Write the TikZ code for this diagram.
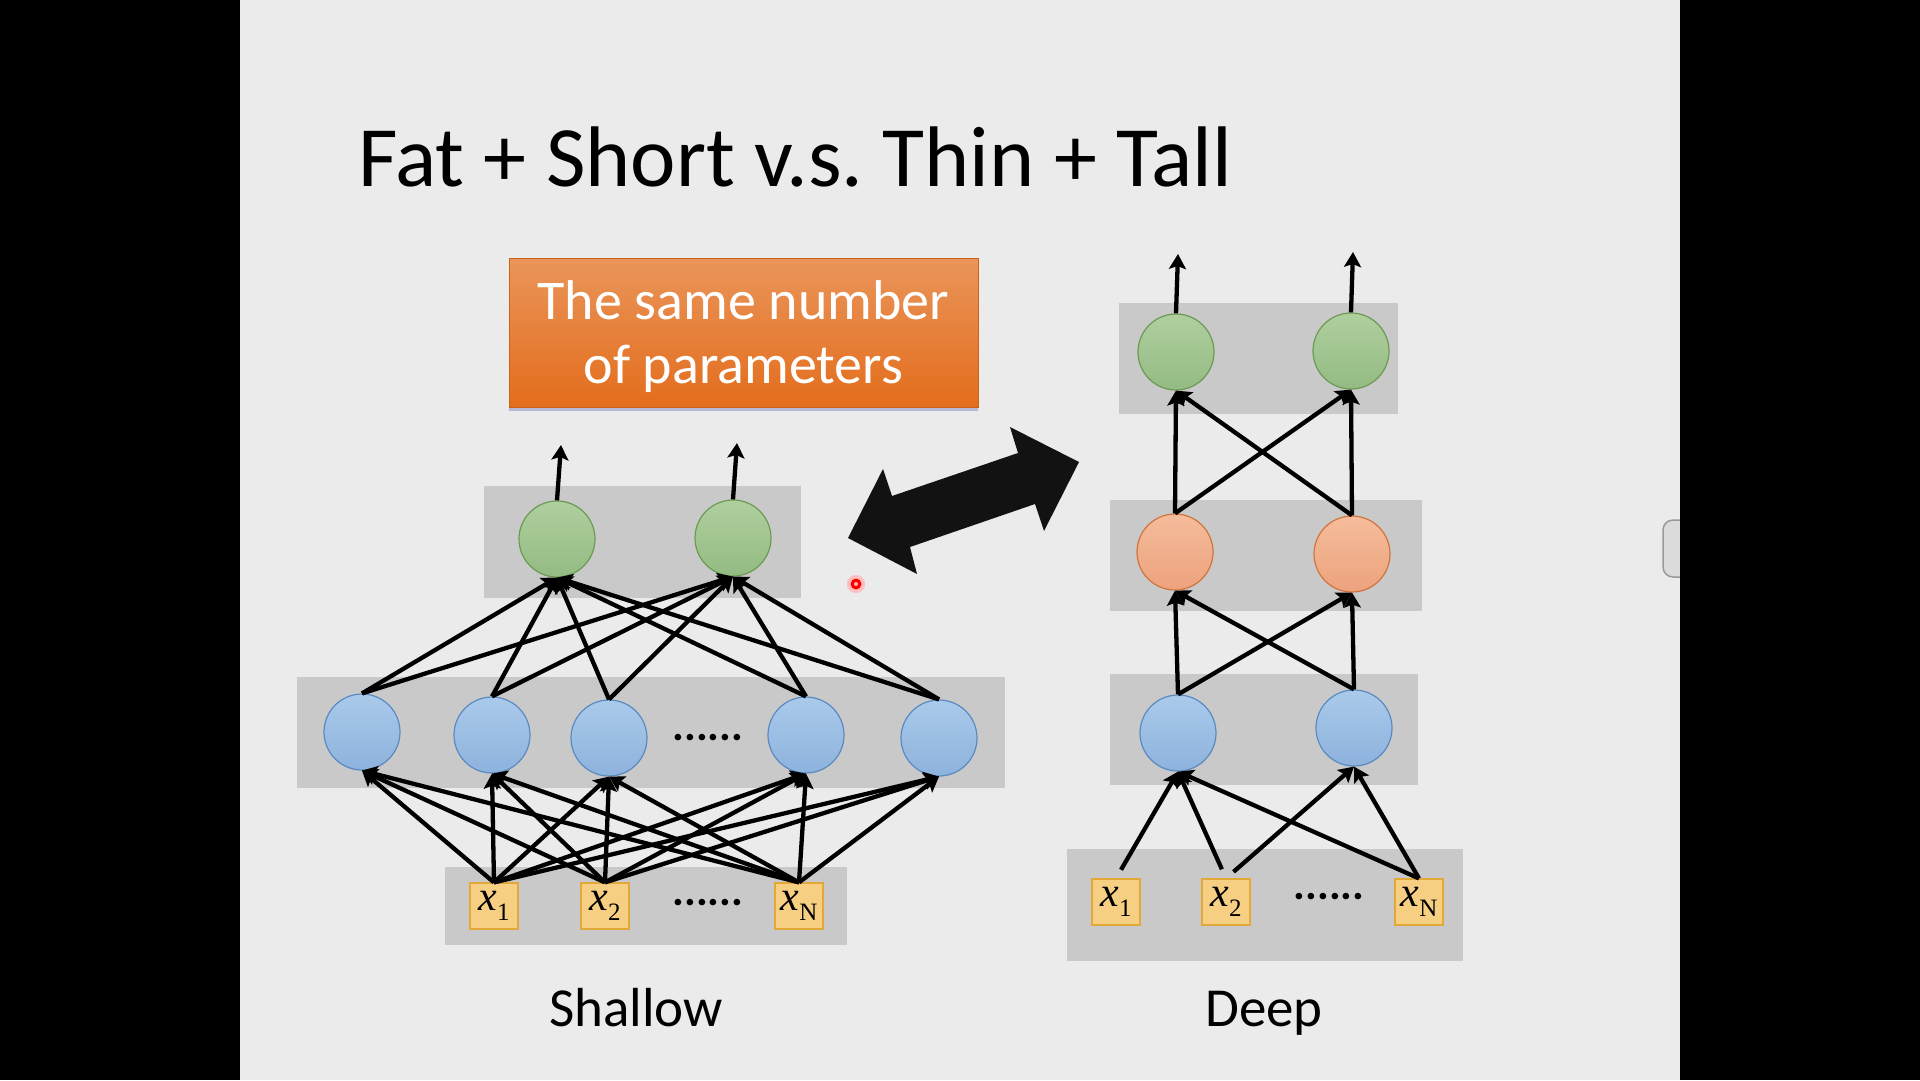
\documentclass[tikz,border=0pt]{standalone}
\usepackage{fontspec}
\setmainfont{Carlito}
\newfontfamily\inputfont{Liberation Serif}
\usetikzlibrary{arrows.meta,shadows}
\pgfdeclarelayer{bg}
\pgfsetlayers{bg,main}
\frenchspacing
\definecolor{slide}{HTML}{EBEBEB}
\definecolor{layergray}{HTML}{C9C9C9}
\definecolor{bluetop}{HTML}{AACAEB}
\definecolor{bluebot}{HTML}{8DB2DC}
\definecolor{blueline}{HTML}{5A8AC0}
\definecolor{greentop}{HTML}{AFCF9F}
\definecolor{greenbot}{HTML}{94BB83}
\definecolor{greenline}{HTML}{6C9A52}
\definecolor{peachtop}{HTML}{F5BC9B}
\definecolor{peachbot}{HTML}{EDA27D}
\definecolor{peachline}{HTML}{D0743C}
\definecolor{infill}{HTML}{F7CF82}
\definecolor{inline}{HTML}{E2A83A}
\definecolor{paramtop}{HTML}{EA955A}
\definecolor{parambot}{HTML}{E36D1C}
\newcommand{\xsub}[2]{\textit{#1}\raisebox{-10pt}{\fontsize{25}{25}\selectfont #2}}
\tikzset{
  unit/.style={circle, draw, line width=1.2pt, minimum size=76pt, inner sep=0pt},
  hidunit/.style={unit, draw=blueline, top color=bluetop, bottom color=bluebot},
  outunit/.style={unit, draw=greenline, top color=greentop, bottom color=greenbot},
  midunit/.style={unit, draw=peachline, top color=peachtop, bottom color=peachbot},
  inbox/.style={rectangle, draw=inline, fill=infill, line width=1.2pt,
    minimum width=48pt, minimum height=46pt, inner sep=0pt,
    font=\inputfont\fontsize{42}{42}\selectfont},
  wire/.style={line width=4.3pt, -{Stealth[length=15pt,width=17pt,inset=3pt]}},
  dotrow/.style={inner sep=0pt, font=\bfseries\fontsize{44}{44}\selectfont},
  caption/.style={anchor=base, inner sep=0pt, font=\fontsize{55}{60}\selectfont},
  parambox/.style={rectangle, minimum width=469pt, minimum height=149pt,
    top color=paramtop, bottom color=parambot, draw=parambot!90!black,
    line width=.8pt, text=white, align=center, text depth=0pt,
    font=\fontsize{56}{64}\selectfont,
    drop shadow={shadow xshift=0pt, shadow yshift=-4pt, opacity=.35, fill=blue!30!gray}}
}

\begin{document}
\begin{tikzpicture}[x=1pt, y=-1pt]
  \useasboundingbox (0,0) rectangle (1920,1080);
  \begin{pgfonlayer}{bg}
    \fill[black] (0,0) rectangle (1920,1080);
    \fill[slide] (240,0) rectangle (1680,1080);
    \draw[fill=black!14, draw=black!40, line width=1.5pt, rounded corners=10pt]
      (1663,520) rectangle (1710,577);
    \fill[black] (1680,0) rectangle (1920,1080);
    % shallow layers
    \fill[layergray] (484,486) rectangle (801,598);
    \fill[layergray] (297,677) rectangle (1005,788);
    \fill[layergray] (445,867) rectangle (847,945);
    % deep layers
    \fill[layergray] (1119,303) rectangle (1398,414);
    \fill[layergray] (1110,500) rectangle (1422,611);
    \fill[layergray] (1110,674) rectangle (1418,785);
    \fill[layergray] (1067,849) rectangle (1463,961);
  \end{pgfonlayer}

  \node (title) [anchor=base west, inner sep=0pt, font=\fontsize{86}{100}\selectfont]
    at (358,186) {Fat + Short v.s. Thin + Tall};
  \node (params) [parambox] at (743.5,332.5) {The same number\\of parameters};

  \node (out1) [outunit] at (557,539) {};
  \node (out2) [outunit] at (733,538) {};
  \node (hid1) [hidunit] at (362,732) {};
  \node (hid2) [hidunit] at (492,735) {};
  \node (hid3) [hidunit] at (609,738) {};
  \node (hid4) [hidunit] at (806,735) {};
  \node (hid5) [hidunit] at (939,738) {};
  \node (hdots) [dotrow] at (708,738) {......};
  \node (in1) [inbox] at (494,906) {\xsub{x}{1}};
  \node (in2) [inbox] at (605,906) {\xsub{x}{2}};
  \node (inN) [inbox] at (799,906) {\xsub{x}{N}};
  \node (idots) [dotrow] at (708,903) {......};
  \node (shallow) [caption] at (636,1026) {Shallow};
  \coordinate (y1) at (561,445);
  \coordinate (y2) at (737,443);

  \node (dout1) [outunit] at (1176,352) {};
  \node (dout2) [outunit] at (1351,351) {};
  \node (dmid1) [midunit] at (1175,552) {};
  \node (dmid2) [midunit] at (1352,554) {};
  \node (dhid1) [hidunit] at (1178,733) {};
  \node (dhid2) [hidunit] at (1354,728) {};
  \node (din1) [inbox] at (1116,902) {\xsub{x}{1}};
  \node (din2) [inbox] at (1226,902) {\xsub{x}{2}};
  \node (dinN) [inbox] at (1419,902) {\xsub{x}{N}};
  \node (ddots) [dotrow] at (1329,897) {......};
  \node (deep) [caption] at (1264,1026) {Deep};
  \coordinate (dy1) at (1178,254);
  \coordinate (dy2) at (1353,252);

  \path[wire] (in1.north) edge (hid1.south) edge (hid2.south) edge (hid3.south) edge (hid4.south) edge (hid5.south);
  \path[wire] (in2.north) edge (hid1.south) edge (hid2.south) edge (hid3.south) edge (hid4.south) edge (hid5.south);
  \path[wire] (inN.north) edge (hid1.south) edge (hid2.south) edge (hid3.south) edge (hid4.south) edge (hid5.south);
  \path[wire] (hid1.north) edge (out1.south) edge (out2.south);
  \path[wire] (hid2.north) edge (out1.south) edge (out2.south);
  \path[wire] (hid3.north) edge (out1.south) edge (out2.south);
  \path[wire] (hid4.north) edge (out1.south) edge (out2.south);
  \path[wire] (hid5.north) edge (out1.south) edge (out2.south);
  \draw[wire] (out1.north) -- (y1);
  \draw[wire] (out2.north) -- (y2);

  \path[wire, shorten <=10pt] (din1.north) edge (dhid1.south);
  \path[wire, shorten <=10pt] (din2.north) edge (dhid1.south) edge (dhid2.south);
  \path[wire] (dinN.north) edge (dhid1.south) edge (dhid2.south);
  \path[wire] (dhid1.north) edge (dmid1.south) edge (dmid2.south);
  \path[wire] (dhid2.north) edge (dmid1.south) edge (dmid2.south);
  \path[wire] (dmid1.north) edge (dout1.south) edge (dout2.south);
  \path[wire] (dmid2.north) edge (dout1.south) edge (dout2.south);
  \draw[wire] (dout1.north) -- (dy1);
  \draw[wire] (dout2.north) -- (dy2);

  \fill[black!93] (848,538) -- (883,469) -- (892,496) -- (1018,453) -- (1010,427)
    -- (1079,462) -- (1044,531) -- (1035,504) -- (910,547) -- (917,574) -- cycle;
  \fill[red!25] (856,584) circle (9pt);
  \fill[red] (856,584) circle (5.5pt);
  \fill[red!30!white] (856,584) circle (2pt);
\end{tikzpicture}
\end{document}
